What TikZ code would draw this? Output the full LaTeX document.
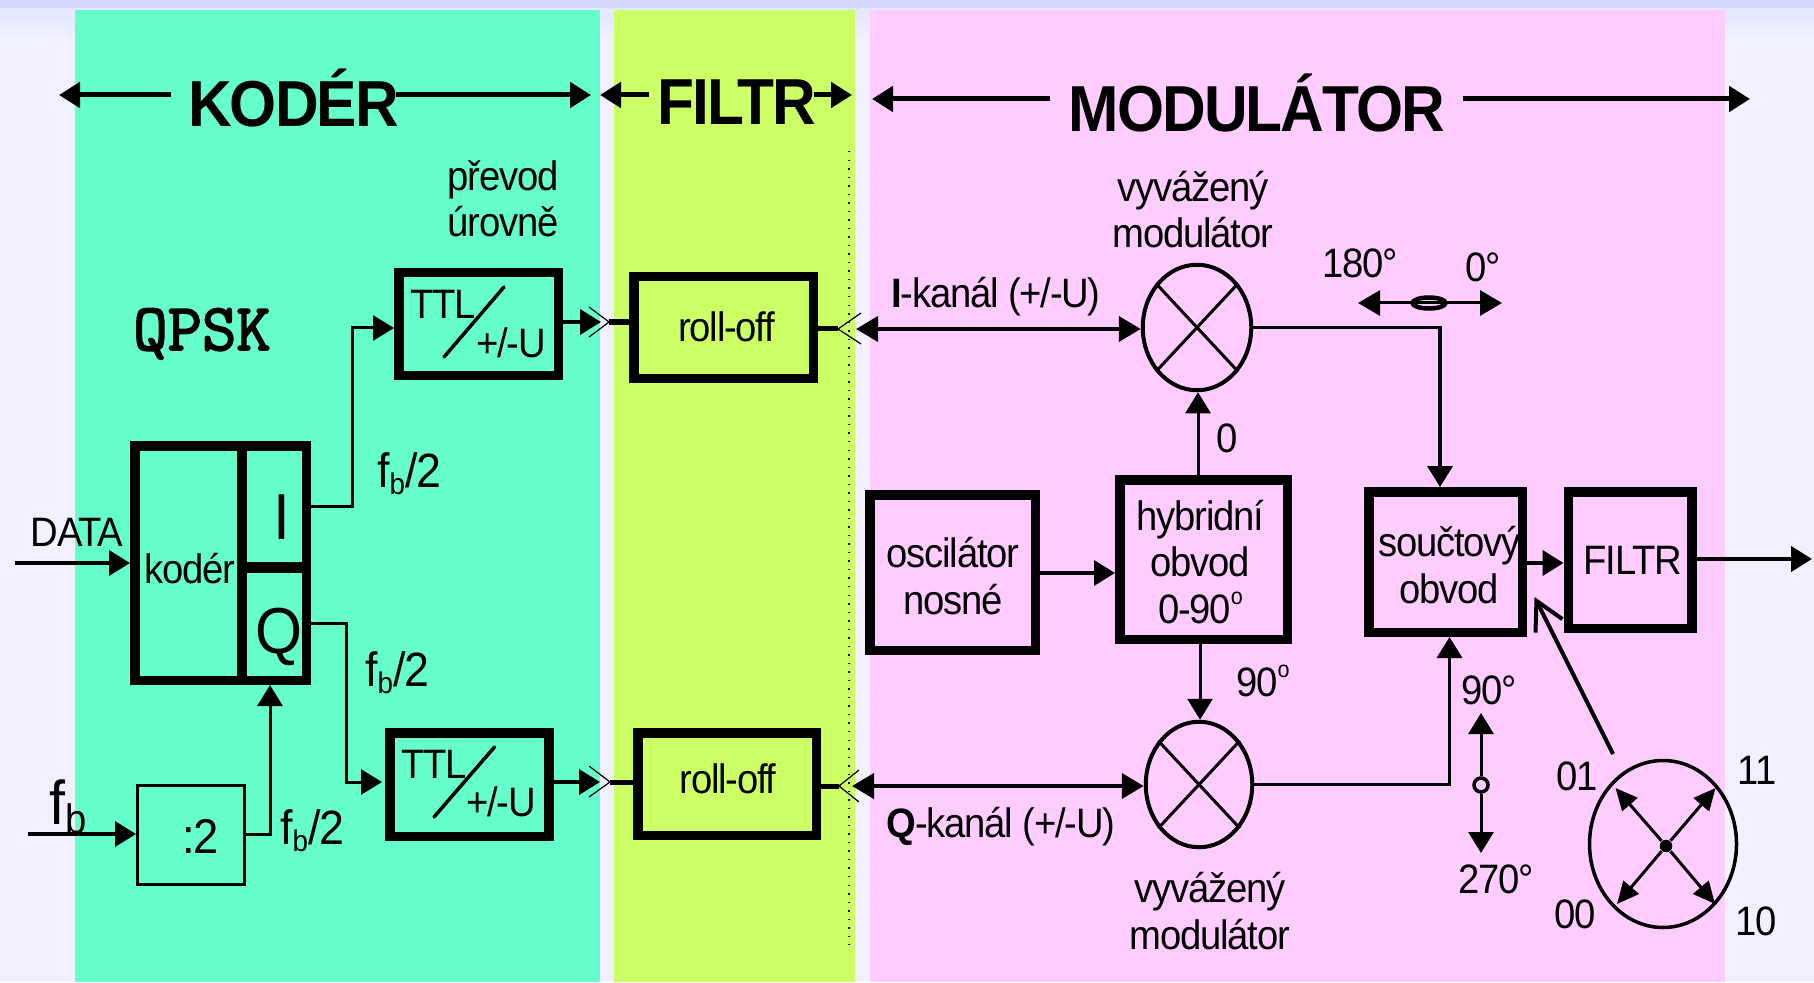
\documentclass[tikz,border=0pt]{standalone}
\usepackage{fontspec}
\setmainfont[FakeStretch=0.93,LetterSpace=-3]{Liberation Sans}
\newfontfamily\qpskfont[FakeBold=2.5]{Latin Modern Mono}
\usetikzlibrary{arrows.meta,shapes.geometric}
\definecolor{pagebg}{RGB}{240,240,255}
\definecolor{topband}{RGB}{214,216,255}
\definecolor{topband2}{RGB}{230,232,255}
\definecolor{kodgreen}{RGB}{102,255,204}
\definecolor{filyellow}{RGB}{204,255,102}
\definecolor{modpink}{RGB}{255,204,255}
\newcommand{\fbhalf}{f\raisebox{-0.07cm}{\fontsize{8.5pt}{9pt}\selectfont b}/2}
\newcommand{\degsup}{\raisebox{0.19cm}{\fontsize{6.6pt}{7pt}\selectfont o}}
\begin{document}
\begin{tikzpicture}[x=1cm,y=-1cm,
  box/.style={draw=black, line width=0.095cm, inner sep=0pt},
  lab/.style={inner sep=0pt, anchor=base, align=center, font=\fontsize{11.7pt}{13.1pt}\selectfont},
  head/.style={inner sep=0pt, anchor=base, font=\fontsize{18.5pt}{20pt}\selectfont\bfseries},
  big/.style={inner sep=0pt, anchor=base, font=\fontsize{18.5pt}{20pt}\selectfont},
  half/.style={inner sep=0pt, anchor=base, font=\fontsize{13.7pt}{15pt}\selectfont},
  mix/.style={draw=black, ellipse, line width=0.04cm, inner sep=0pt},
  arr/.style={-{Stealth[length=0.21cm,width=0.25cm,inset=0pt]}, line width=0.03cm},
  arrb/.style={-{Stealth[length=0.21cm,width=0.25cm,inset=0pt]}, line width=0.04cm},
  dbl/.style={{Stealth[length=0.22cm,width=0.25cm,inset=0pt]}-{Stealth[length=0.22cm,width=0.25cm,inset=0pt]}, line width=0.04cm},
  stub/.style={line width=0.05cm},
  chev/.style={line width=0.012cm}]
\useasboundingbox (0,0) rectangle (18.14,9.82);
\fill[pagebg] (0,0) rectangle (18.14,9.82);
\shade[top color=topband2, bottom color=pagebg] (0,0.18) rectangle (18.14,0.38);
\fill[topband2] (0,0.08) rectangle (18.14,0.18);
\fill[topband] (0,0) rectangle (18.14,0.08);
\fill[kodgreen] (0.75,0.10) rectangle (6.00,9.82);
\fill[filyellow] (6.14,0.10) rectangle (8.55,9.82);
\fill[modpink] (8.70,0.10) rectangle (17.25,9.82);
\draw[line width=0.015cm, dotted] (8.49,1.51) -- (8.49,9.45);

% section headers
\node[head] (tKod) at (2.935,1.27) {KODÉR};
\node[head] (tFil) at (7.37,1.25) {FILTR};
\node[head] (tMod) at (12.57,1.32) {MODULÁTOR};
\coordinate (kodL) at (0.59,0.95);
\coordinate (kodR) at (5.91,0.95);
\coordinate (filL) at (6.00,0.95);
\coordinate (filR) at (8.52,0.95);
\coordinate (modL) at (8.72,0.99);
\coordinate (modR) at (17.50,0.99);
\draw[arrb, line width=0.05cm] (tKod.west |- kodL) ++(-0.17,0) -- (kodL);
\draw[arrb, line width=0.05cm] (tKod.east |- kodR) ++(-0.03,0) -- (kodR);
\draw[arrb, line width=0.05cm] (tFil.west |- filL) ++(-0.08,0) -- (filL);
\draw[arrb, line width=0.05cm] (tFil.east |- filR) ++(-0.03,0) -- (filR);
\draw[arrb, line width=0.05cm] (tMod.west |- modL) ++(-0.18,0) -- (modL);
\draw[arrb, line width=0.05cm] (tMod.east |- modR) ++(0.17,0) -- (modR);

% koder part
\node[inner sep=0pt, anchor=base, font=\fontsize{19pt}{20pt}\selectfont\qpskfont] (tQpsk) at (2.02,3.50) {QPSK};
\node[lab] (tPrev) at (5.03,2.37) {převod\\úrovně};
\node[box, minimum width=1.065cm, minimum height=2.345cm] (bKod) at (1.88,5.63) {};
\node[box, minimum width=0.645cm, minimum height=1.225cm] (bI) at (2.74,5.07) {};
\node[box, minimum width=0.645cm, minimum height=1.135cm] (bQ) at (2.74,6.235) {};
\node[lab] (tKodInner) at (1.90,5.83) {kodér};
\node[big] (tI) at (2.82,5.39) {I};
\node[big] (tQ) at (2.795,6.53) {Q};
\node[box, line width=0.03cm, minimum width=1.07cm, minimum height=0.99cm] (bDiv) at (1.91,8.35) {};
\node[inner sep=0pt, anchor=base, font=\fontsize{13.9pt}{15pt}\selectfont] (tDiv) at (2.01,8.53) {:2};
\node[box, minimum width=1.595cm, minimum height=1.025cm] (ttlA) at (4.785,3.24) {};
\node[box, minimum width=1.59cm, minimum height=1.035cm] (ttlB) at (4.6925,7.845) {};
\node[lab] (tTtlA) at (4.43,3.18) {TTL};
\node[lab] (uA) at (5.11,3.57) {+/-U};
\node[lab] (tTtlB) at (4.34,7.78) {TTL};
\node[lab] (uB) at (5.01,8.16) {+/-U};
\draw[line width=0.035cm, line cap=round] (5.04,2.87) -- (4.44,3.57);
\draw[line width=0.035cm, line cap=round] (4.945,7.47) -- (4.34,8.17);
\node[lab] (tData) at (0.77,5.46) {DATA};
\node[inner sep=0pt, anchor=base, font=\fontsize{17.6pt}{19pt}\selectfont] (tFb) at (0.685,8.24) {f\raisebox{-0.09cm}{\fontsize{11.7pt}{13pt}\selectfont b}};
\node[half] (tHalfA) at (4.09,4.87) {\fbhalf};
\node[half] (tHalfB) at (3.97,6.86) {\fbhalf};
\node[half] (tHalfC) at (3.12,8.44) {\fbhalf};
\coordinate (inData) at (0.15,5.63);
\coordinate (inFb) at (0.28,8.34);
\draw[arr, line width=0.035cm] (inData) -- (bKod.west |- inData);
\draw[arr, line width=0.035cm] (inFb) -- (bDiv.west |- inFb);
\draw[arr] (bDiv.east |- inFb) -| (bKod.south -| 2.70,0);
\draw[arr] (bI.east |- 0,5.06) -| (3.52,3.28) -- (ttlA.west |- 0,3.28);
\draw[arr, shorten >=0.03cm] (bQ.east |- 0,6.23) -| (3.46,7.82) -- (ttlB.west |- 0,7.82);

% roll-off and the junctions
\node[box, minimum width=1.795cm, minimum height=1.015cm] (rollA) at (7.235,3.275) {};
\node[box, minimum width=1.785cm, minimum height=1.025cm] (rollB) at (7.27,7.84) {};
\node[lab] (tRollA) at (7.267,3.417) {roll-off};
\node[lab] (tRollB) at (7.28,7.93) {roll-off};
\coordinate (junA) at (6.09,3.22);
\coordinate (junB) at (6.10,7.82);
\coordinate (junC) at (8.38,3.29);
\coordinate (junD) at (8.39,7.86);
\draw[arrb, shorten >=0.08cm] (ttlA.east |- junA) -- (junA);
\draw[arrb, shorten >=0.10cm] (ttlB.east |- junB) -- (junB);
\draw[stub] (junA) -- (rollA.west |- junA);
\draw[stub] (junB) -- (rollB.west |- junB);
\draw[stub] (rollA.east |- junC) -- (junC);
\draw[stub] (rollB.east |- junD) -- (junD);
\draw[chev] (junA) ++(-0.20,-0.15) -- (junA) -- ++(-0.20,0.15);
\draw[chev] (junB) ++(-0.21,-0.16) -- (junB) -- ++(-0.21,0.15);
\draw[chev] (junC) ++(0.23,-0.16) -- (junC) -- ++(0.23,0.15);
\draw[chev] (junD) ++(0.20,-0.16) -- (junD) -- ++(0.20,0.16);

% modulator part
\node[lab] (tVyvA) at (11.93,2.48) {vyvážený\\modulátor};
\node[lab] (tVyvB) at (12.10,9.49) {vyvážený\\modulátor};
\node[mix, minimum width=1.085cm, minimum height=1.255cm] (modI) at (11.97,3.275) {};
\node[mix, minimum width=1.065cm, minimum height=1.255cm] (modQ) at (11.99,7.845) {};
\draw[line width=0.03cm] (modI.133) -- (modI.-47);
\draw[line width=0.03cm] (modI.47) -- (modI.-133);
\draw[line width=0.03cm] (modQ.133) -- (modQ.-47);
\draw[line width=0.03cm] (modQ.47) -- (modQ.-133);
\node[lab] (tKanI) at (9.96,3.08) {\textbf{I}-kanál (+/-U)};
\node[lab] (tKanQ) at (10.01,8.37) {\textbf{Q}-kanál (+/-U)};
\draw[dbl, shorten <=0.18cm] (junC) -- (modI.west |- junC);
\draw[dbl, shorten <=0.13cm] (junD) -- (modQ.west |- junD);
\node[box, minimum width=1.655cm, minimum height=1.555cm] (bOsc) at (9.525,5.725) {};
\node[box, minimum width=1.675cm, minimum height=1.595cm] (bHyb) at (12.035,5.595) {};
\node[box, minimum width=1.535cm, minimum height=1.405cm] (bSum) at (14.455,5.62) {};
\node[box, minimum width=1.235cm, minimum height=1.365cm] (bFil) at (16.30,5.60) {};
\node[lab] (tOsc) at (9.53,6.14) {oscilátor\\nosné};
\node[lab] (tHyb) at (12.005,6.23) {hybridní\\obvod\\0-90\degsup};
\node[lab] (tSum) at (14.495,6.03) {součtový\\obvod};
\node[lab] (tFilBox) at (16.33,5.74) {FILTR};
\node[lab] (tZero) at (12.27,4.52) {0};
\node[lab] (tNinetyA) at (12.63,6.96) {90\degsup};
\node[lab] (tPhA) at (13.60,2.77) {180°};
\node[lab] (tPhB) at (14.83,2.82) {0°};
\node[lab] (tPhC) at (14.89,7.04) {90°};
\node[lab] (tPhD) at (14.96,8.93) {270°};
\draw[arr, line width=0.035cm] (bOsc.east |- 0,5.73) -- (bHyb.west |- 0,5.73);
\draw[arr] (bHyb.north -| 11.98,0) -- (modI.south -| 11.98,0);
\draw[arr] (bHyb.south -| 12.00,0) -- (modQ.north -| 12.00,0);
\draw[arr, line width=0.035cm] (modI.east) -| (bSum.north -| 14.40,0);
\draw[arr, line width=0.035cm] (modQ.east) -| (bSum.south -| 14.495,0);
\draw[arrb] (bSum.east |- 0,5.63) -- (bFil.west |- 0,5.63);
\coordinate (outFil) at (18.12,5.59);
\draw[arrb] (bFil.east |- outFil) -- (outFil);

% phase switches
\node[draw=black, ellipse, line width=0.045cm, inner sep=0pt, minimum width=0.33cm, minimum height=0.11cm] (swA) at (14.29,3.03) {};
\coordinate (swAl) at (13.58,3.03);
\coordinate (swAr) at (15.02,3.03);
\draw[dbl, line width=0.03cm] (swAl) -- (swAr);
\node[draw=black, circle, line width=0.035cm, inner sep=0pt, minimum size=0.14cm] (swB) at (14.81,7.85) {};
\coordinate (swBt) at (14.81,7.13);
\coordinate (swBb) at (14.81,8.53);
\draw[arr] (swB) -- (swBt);
\draw[arr] (swB) -- (swBb);

% constellation
\node[mix, line width=0.035cm, minimum width=1.47cm, minimum height=1.67cm] (con) at (16.63,8.44) {};
\node[fill=black, circle, inner sep=0pt, minimum size=0.125cm] (conDot) at (16.66,8.46) {};
\coordinate (cNW) at (16.155,7.88);
\coordinate (cNE) at (17.155,7.88);
\coordinate (cSW) at (16.17,9.04);
\coordinate (cSE) at (17.15,9.04);
\draw[-{Stealth[length=0.22cm,width=0.2cm,inset=0pt]}, line width=0.03cm] (conDot) -- (cNW);
\draw[-{Stealth[length=0.22cm,width=0.2cm,inset=0pt]}, line width=0.03cm] (conDot) -- (cNE);
\draw[-{Stealth[length=0.22cm,width=0.2cm,inset=0pt]}, line width=0.03cm] (conDot) -- (cSW);
\draw[-{Stealth[length=0.22cm,width=0.2cm,inset=0pt]}, line width=0.03cm] (conDot) -- (cSE);
\coordinate (conOut) at (16.13,7.54);
\coordinate (sumIn) at (15.345,5.97);
\draw[-{Straight Barb[length=0.28cm,width=0.3cm]}, line width=0.04cm] (conOut) -- (sumIn);
\node[lab] (tS01) at (15.77,7.90) {01};
\node[lab] (tS11) at (17.57,7.84) {11};
\node[lab] (tS00) at (15.75,9.28) {00};
\node[lab] (tS10) at (17.56,9.35) {10};
\end{tikzpicture}
\end{document}
